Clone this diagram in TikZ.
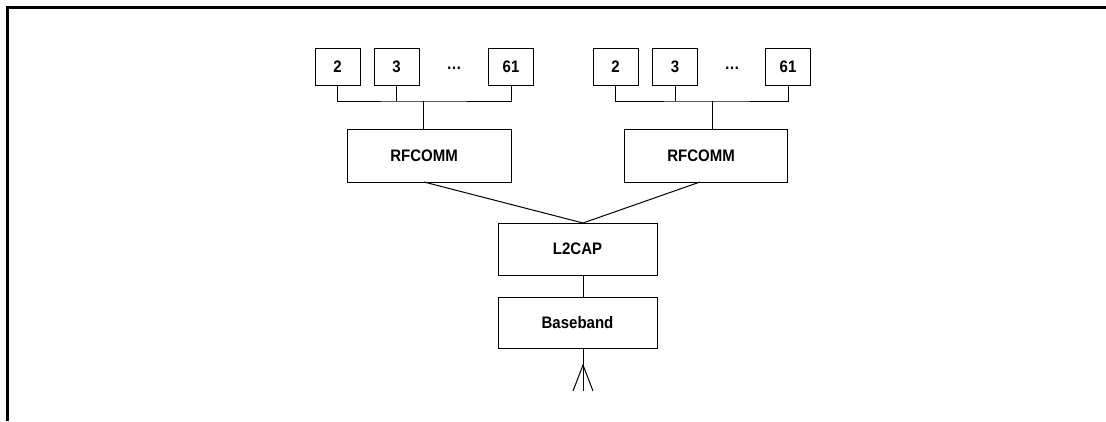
\documentclass[tikz,border=0pt]{standalone}
\usepackage{fontspec}
\setmainfont{Liberation Sans}[FakeStretch=0.9]
\begin{document}
\begin{tikzpicture}[x=0.75pt,y=-0.75pt,
  lbl/.style={font=\fontsize{12.5}{14}\selectfont\bfseries},
  chan/.style={draw,line width=0.75pt,minimum width=45*0.75pt,minimum height=37*0.75pt,inner sep=0pt,lbl},
  layer/.style={draw,line width=0.75pt,minimum width=164*0.75pt,minimum height=53*0.75pt,inner sep=0pt,lbl},
  stack/.style={draw,line width=0.75pt,minimum width=159*0.75pt,minimum height=52*0.75pt,inner sep=0pt,lbl},
  wire/.style={line width=0.75pt},
  frame/.style={line width=1.9pt}]
\useasboundingbox (0,0) rectangle (1106,421);
% frame
\coordinate (ftl) at (7.5,7.5);
\coordinate (ftr) at (1106,7.5);
\coordinate (fbl) at (7.5,421);
\draw[frame] (fbl) -- (ftl) -- (ftr);
% left group
\node[chan] (a2) at (337.5,66.5) {2};
\node[chan] (a3) at (396.5,66.5) {3};
\node[lbl] (adots) at (454,68) {…};
\node[chan] (a61) at (511,66.5) {61};
\node[layer] (arf) at (429,155.5) {};
\node[lbl] (arftxt) at (424,155.5) {RFCOMM};
\coordinate (abus) at (423,101);
\draw[wire] (a2.south) |- (abus) -| (a61.south);
\draw[wire] (a3.south) -- (a3.south |- abus);
\draw[wire] (abus) -- (abus |- arf.north);
\coordinate (asouth) at (424,182);
% right group
\node[chan] (b2) at (615.5,66.5) {2};
\node[chan] (b3) at (675,66.5) {3};
\node[lbl] (bdots) at (732,68) {…};
\node[chan] (b61) at (788,66.5) {61};
\node[layer,minimum width=163*0.75pt] (brf) at (705.5,155.5) {};
\node[lbl] (brftxt) at (701,155.5) {RFCOMM};
\coordinate (bbus) at (712,101);
\draw[wire] (b2.south) |- (bbus) -| (b61.south);
\draw[wire] (b3.south) -- (b3.south |- bbus);
\draw[wire] (bbus) -- (bbus |- brf.north);
\coordinate (bsouth) at (700,182);
% stack
\node[stack] (l2cap) at (577.5,249) {L2CAP};
\node[stack,minimum height=51*0.75pt] (bb) at (577.5,322.5) {Baseband};
\coordinate (ltop) at (583,223);
\draw[wire] (asouth) -- (ltop);
\draw[wire] (bsouth) -- (ltop);
\draw[wire] (ltop |- l2cap.south) -- (ltop |- bb.north);
% antenna
\coordinate (apex) at (583,365);
\coordinate (legl) at (573,391);
\coordinate (legr) at (593,391);
\coordinate (legm) at (583,391);
\draw[wire] (legm |- bb.south) -- (legm);
\draw[wire] (legl) -- (apex) -- (legr);
\end{tikzpicture}
\end{document}
